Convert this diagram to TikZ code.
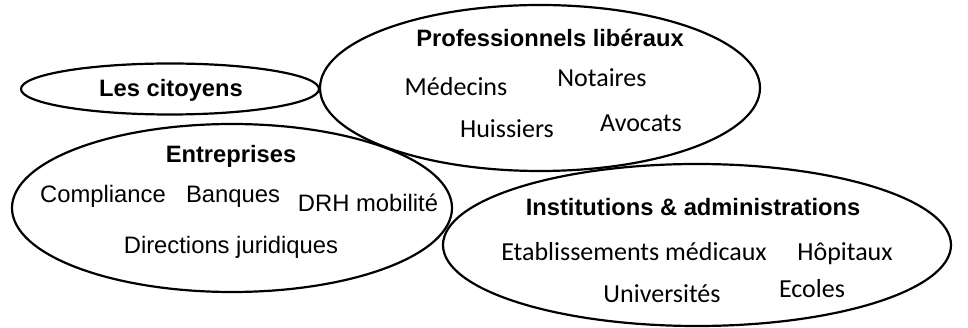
\documentclass[tikz,border=0pt]{standalone}
\usepackage{fontspec}
\setmainfont{Liberation Sans}
\newfontfamily\calib{Carlito}
\begin{document}
\begin{tikzpicture}[x=1pt,y=-1pt,
  ell/.style={draw=black,line width=2.2pt},
  head/.style={anchor=base,inner sep=0pt,font=\fontsize{23.7}{28}\selectfont\bfseries},
  itemA/.style={anchor=base,inner sep=0pt,font=\fontsize{23.8}{28}\selectfont},
  itemC/.style={anchor=base,inner sep=0pt,font=\calib\fontsize{26}{30}\selectfont}]
\useasboundingbox[fill=white] (0,0) rectangle (968,328);
% ellipses
\draw[ell] (170,89) ellipse [x radius=149, y radius=25.5];
\draw[ell] (540,88) ellipse [x radius=220, y radius=83];
\draw[ell] (232,208) ellipse [x radius=220, y radius=84];
\draw[ell] (697,245) ellipse [x radius=254, y radius=81];
% texts
\node[head] (cit) at (171,97) {Les citoyens};
\node[head] (pro) at (550,47) {Professionnels libéraux};
\node[itemC] (med) at (456,96) {Médecins};
\node[itemC] (not) at (602,87) {Notaires};
\node[itemC] (hui) at (507,138) {Huissiers};
\node[itemC] (avo) at (641,132) {Avocats};
\node[head] (ent) at (231,163) {Entreprises};
\node[itemA] (com) at (103,203) {Compliance};
\node[itemA] (ban) at (233,203) {Banques};
\node[itemA] (drh) at (368,212) {DRH mobilité};
\node[itemA] (dir) at (231,254) {Directions juridiques};
\node[head] (ins) at (693,216) {Institutions \& administrations};
\node[itemC] (eta) at (634,261) {Etablissements médicaux};
\node[itemC] (hop) at (845,261) {Hôpitaux};
\node[itemC] (uni) at (662,302) {Universités};
\node[itemC] (eco) at (812,298) {Ecoles};
\end{tikzpicture}
\end{document}
